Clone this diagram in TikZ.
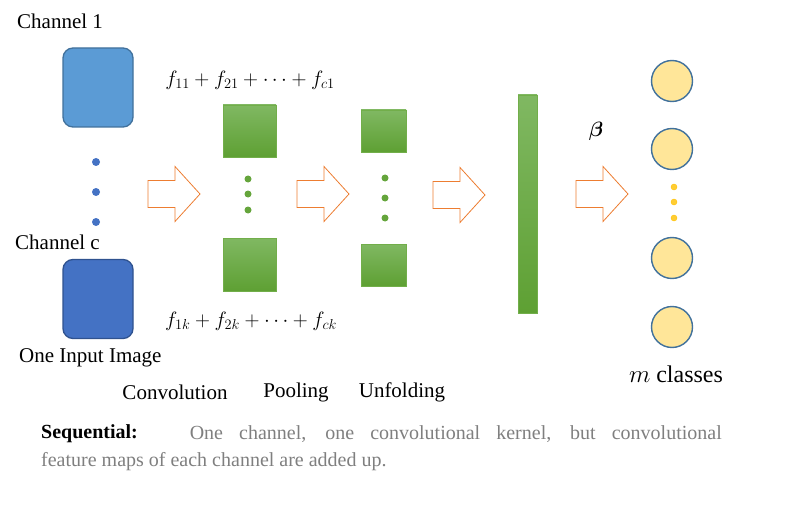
\documentclass[tikz,border=0pt]{standalone}
\usepackage{amsmath}
\usepackage{bm}
\usepackage{fontspec}
\setmainfont{Liberation Serif}
\usetikzlibrary{positioning}
\definecolor{chanone}{HTML}{5B9BD5}
\definecolor{chanoneedge}{HTML}{41719C}
\definecolor{chanc}{HTML}{4472C4}
\definecolor{chancedge}{HTML}{2F528F}
\definecolor{maptop}{HTML}{80B862}
\definecolor{mapbot}{HTML}{5EA033}
\definecolor{mapedge}{HTML}{72AE4A}
\definecolor{arrorange}{HTML}{ED7D31}
\definecolor{clsfill}{HTML}{FFE699}
\definecolor{clsedge}{HTML}{41719C}
\definecolor{clsdot}{HTML}{FFC000}
\definecolor{notegray}{HTML}{7F7F7F}
\tikzset{
  lbl/.style={font=\fontsize{21}{25}\selectfont, inner sep=0pt},
  imgbox/.style={rounded corners=10pt, line width=1.3pt, minimum width=70pt, minimum height=79pt, inner sep=0pt},
  fmap/.style={draw=mapedge, top color=maptop, bottom color=mapbot, inner sep=0pt},
  bdot/.style={circle, fill=chanc, minimum size=8pt, inner sep=0pt},
  gdot/.style={circle, fill=mapbot!80!maptop, minimum size=7pt, inner sep=0pt},
  ydot/.style={circle, fill=clsdot!80!white, draw=clsdot, minimum size=6pt, inner sep=0pt},
  clsnode/.style={circle, draw=clsedge, fill=clsfill, line width=1.4pt, minimum size=41pt, inner sep=0pt},
  blkarr/.style={draw=arrorange, fill=white, line width=0.8pt, line join=miter}
}
% block arrow, #1 = centre of its left end
\newcommand{\blkarrow}[1]{\draw[blkarr] (#1) ++(0,-13.5) -- ++(27,0) -- ++(0,-14) -- ++(25,27.5) -- ++(-25,27.5) -- ++(0,-14) -- ++(-27,0) -- cycle;}
\begin{document}
\begin{tikzpicture}[x=1pt,y=-1pt]
    \useasboundingbox (0,0) rectangle (790,524);
    % input image
    \node[lbl, anchor=west] (ch1) at (17,21) {Channel 1};
    \node[imgbox, draw=chanoneedge, fill=chanone] (img1) at (98,87.5) {};
    \foreach \y [count=\i] in {162,192,222} \node[bdot] (bd\i) at (96,\y) {}; % channel dots
    \node[lbl, anchor=west] (chc) at (15,242) {Channel c};
    \node[imgbox, draw=chancedge, fill=chanc] (imgc) at (98,299) {};
    \node[lbl, anchor=west] (inimg) at (19,358) {One Input Image};
    % convolution
    \node[lbl, font=\fontsize{22}{26}\selectfont] (sumtop) at (250,80) {$f_{11}+f_{21}+\cdots+f_{c1}$};
    \node[fmap, minimum width=53pt, minimum height=52pt] (conv1) at (249.5,131) {};
    \foreach \y [count=\i] in {179,194,210} \node[gdot] (cd\i) at (248,\y) {};
    \node[fmap, minimum width=53pt, minimum height=53pt] (convk) at (249.5,264.5) {};
    \node[lbl, font=\fontsize{22}{26}\selectfont] (sumbot) at (251,321) {$f_{1k}+f_{2k}+\cdots+f_{ck}$};
    % pooling
    \node[fmap, minimum width=45pt, minimum height=42pt] (pool1) at (383.5,131) {};
    \foreach \y [count=\i] in {178,198,218} \node[gdot] (pd\i) at (385,\y) {};
    \node[fmap, minimum width=45pt, minimum height=42pt] (poolk) at (383.5,265) {};
    % unfolded vector
    \node[fmap, minimum width=19pt, minimum height=218pt] (vec) at (527.5,204) {};
    % arrows
    \coordinate (a1) at (148,194);
    \coordinate (a2) at (297,194);
    \coordinate (a3) at (433,195);
    \coordinate (a4) at (576,194);
    \blkarrow{a1} \blkarrow{a2} \blkarrow{a3} \blkarrow{a4}
    \node[lbl] (beta) at (596,131) {$\bm{\beta}$};
    % classes
    \foreach \y [count=\i] in {81,149,258,327} \node[clsnode] (cls\i) at (672,\y) {};
    \foreach \y [count=\i] in {187,202,218} \node[ydot] (yd\i) at (674,\y) {};
    \node[lbl, font=\fontsize{24}{28}\selectfont] (mcls) at (676,374) {$m$ classes};
    % stage labels
    \node[lbl] (lconv) at (175,392) {Convolution};
    \node[lbl] (lpool) at (296,392) {Pooling};
    \node[lbl] (lunf) at (402,392) {Unfolding};
    % note
    \node[lbl, anchor=west, font=\fontsize{20}{24}\selectfont\bfseries] (seq) at (41,434) {Sequential:};
    \node[lbl, anchor=east, text=notegray, font=\fontsize{20}{24}\selectfont] (note1) at (722,434) {\makebox[532pt][s]{One channel, one convolutional kernel, but convolutional}};
    \node[lbl, anchor=west, text=notegray, font=\fontsize{20}{24}\selectfont] (note2) at (41,462) {feature maps of each channel are added up.};
\end{tikzpicture}
\end{document}
